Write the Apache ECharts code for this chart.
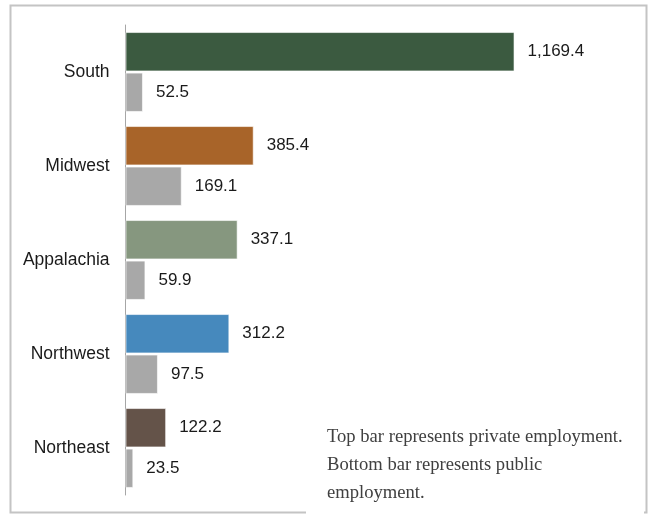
<!DOCTYPE html>
<html>
<head>
<meta charset="utf-8">
<script src="https://cdn.jsdelivr.net/npm/echarts@6/dist/echarts.min.js"></script>
<style>
  html, body { margin: 0; padding: 0; background: #fff; }
  #chart { width: 650px; height: 515px; }
</style>
</head>
<body>
<div id="chart"></div>
<script>
// Employment by region: private (top bar) and public (bottom bar)
const regions = ['South', 'Midwest', 'Appalachia', 'Northwest', 'Northeast'];
const privateEmployment = [1169.4, 385.4, 337.1, 312.2, 122.2];
const publicEmployment = [52.5, 169.1, 59.9, 97.5, 23.5];
const regionColors = ['#3b5a40', '#a86429', '#86977f', '#4689bd', '#645349'];
const publicColor = '#a8a8a8';
const noteLines = [
  'Top bar represents private employment.',
  'Bottom bar represents public',
  'employment.'
];

const fmt = v => v.toLocaleString('en-US', { minimumFractionDigits: 1, maximumFractionDigits: 1 });

const labelStyle = {
  show: true,
  position: 'right',
  distance: 13,
  fontFamily: 'Liberation Sans, Arial, sans-serif',
  fontSize: 17,
  color: '#1a1a1a',
  formatter: p => fmt(p.value)
};

const chart = echarts.init(document.getElementById('chart'), null, { renderer: 'canvas' });
chart.setOption({
  animation: false,
  backgroundColor: '#fff',
  grid: { left: 125.5, top: 25, width: 499, height: 470 },
  xAxis: {
    type: 'value', min: 0, max: 1500,
    show: false
  },
  yAxis: {
    type: 'category',
    data: regions,
    inverse: true,
    axisLine: { show: true, lineStyle: { color: '#a6a6a6', width: 1 } },
    axisTick: { show: false },
    axisLabel: {
      margin: 16,
      fontFamily: 'Liberation Sans, Arial, sans-serif',
      fontSize: 17.5,
      color: '#1a1a1a'
    }
  },
  series: [
    {
      name: 'Private',
      type: 'bar',
      data: privateEmployment.map((v, i) => ({ value: v, itemStyle: { color: regionColors[i] } })),
      barCategoryGap: '15%',
      barGap: '3%',
      itemStyle: { borderColor: 'rgba(255,255,255,0.6)', borderWidth: 1 },
      label: labelStyle
    },
    {
      name: 'Public',
      type: 'bar',
      data: publicEmployment,
      barCategoryGap: '15%',
      barGap: '3%',
      itemStyle: { color: publicColor, borderColor: 'rgba(255,255,255,0.6)', borderWidth: 1 },
      label: labelStyle
    }
  ],
  graphic: [
    {
      type: 'rect',
      shape: { x: 10.5, y: 5.5, width: 636, height: 507 },
      style: { fill: 'none', stroke: '#c4c4c4', lineWidth: 2 },
      z: 10
    },
    {
      type: 'rect',
      shape: { x: 306, y: 400, width: 338, height: 115 },
      style: { fill: '#fff' },
      z: 11
    },
    {
      type: 'text',
      left: 327,
      top: 423,
      style: {
        text: noteLines.join('\n'),
        fontFamily: 'Liberation Serif, Times New Roman, serif',
        fontSize: 18.6,
        lineHeight: 28,
        fill: '#404040'
      },
      z: 12
    }
  ]
});
</script>
</body>
</html>
